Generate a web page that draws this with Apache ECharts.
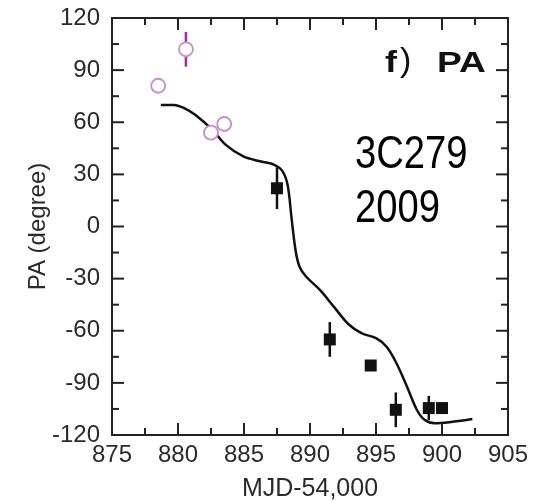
<!DOCTYPE html>
<html>
<head>
<meta charset="utf-8">
<script src="https://cdn.jsdelivr.net/npm/echarts@6/dist/echarts.min.js"></script>
<style>html,body{margin:0;padding:0;background:#fff;}#c{width:543px;height:502px;}</style>
</head>
<body>
<div id="c"></div>
<script>
// Open circles (early data)
const openX = [878.5, 880.6, 882.5, 883.5];
const openY = [81, 102, 54, 59];
const openErr = [0, 10, 0, 0];
// Filled squares
const sqX = [887.5, 891.5, 894.6, 896.5, 899.0, 900.0];
const sqY = [22, -65, -80, -105.5, -104.5, -104.5];
const sqErr = [12, 10, 0, 10, 7, 0];
// Model curve
const curveX = [878.7, 879.7, 880.5, 881.3, 882.6, 883.6, 884.95, 886.3, 887.3, 887.9, 888.3, 888.6, 888.9, 889.2, 889.7, 890.75, 891.8, 892.9, 893.9, 895.0, 895.8, 896.55, 897.35, 898.1, 898.7, 899.45, 900.8, 902.3];
const curveY = [70, 70, 68, 64.3, 55.7, 47.1, 40.3, 37.4, 35.5, 32, 24, 5, -13.4, -23, -28.8, -36.5, -46.1, -56.1, -61.4, -64.3, -69.2, -78.7, -92.2, -105.6, -111.4, -113.3, -112.4, -110.8];
// Axis range and tick values
const xMin = 875, xMax = 905, xStep = 5;
const yMin = -120, yMax = 120, yStep = 30;
const xMajorTicks = [880, 885, 890, 895, 900];
const xMinorTicks = [877.5, 882.5, 887.5, 892.5, 897.5, 902.5];
const yMajorTicks = [-90, -60, -30, 0, 30, 60, 90];
const yMinorTicks = [-105, -75, -45, -15, 15, 45, 75, 105];

const FONT = '"Liberation Sans", Arial, sans-serif';
const AX = '#222';
const LBL = '#2a2a2a';
const MAJOR_LEN = 12, MINOR_LEN = 7;

function zip(a, b, c) { return a.map((v, i) => c ? [v, b[i], c[i]] : [v, b[i]]); }

function errBar(color) {
  return function (params, api) {
    const x = api.value(0), y = api.value(1), e = api.value(2);
    if (!e) return null;
    const p1 = api.coord([x, y + e]);
    const p2 = api.coord([x, y - e]);
    return { type: 'line', shape: { x1: p1[0], y1: p1[1], x2: p2[0], y2: p2[1] },
      style: { stroke: color, lineWidth: 2.5 } };
  };
}

// tick: anchor point in data units + inward pixel offset
function tickItem(params, api) {
  const p = api.coord([api.value(0), api.value(1)]);
  return { type: 'line', shape: { x1: p[0], y1: p[1], x2: p[0] + api.value(2), y2: p[1] + api.value(3) },
    style: { stroke: AX, lineWidth: 2 } };
}
// frame edge: two points in data units
function frameItem(params, api) {
  const a = api.coord([api.value(0), api.value(1)]);
  const b = api.coord([api.value(2), api.value(3)]);
  return { type: 'line', shape: { x1: a[0], y1: a[1], x2: b[0], y2: b[1] },
    style: { stroke: AX, lineWidth: 2, lineCap: 'square' } };
}
function xT(vals, len) { return vals.map(v => [v, yMin, 0, -len]).concat(vals.map(v => [v, yMax, 0, len])); }
function yT(vals, len) { return vals.map(v => [xMin, v, len, 0]).concat(vals.map(v => [xMax, v, -len, 0])); }
const tickData = xT(xMajorTicks, MAJOR_LEN).concat(xT(xMinorTicks, MINOR_LEN), yT(yMajorTicks, MAJOR_LEN), yT(yMinorTicks, MINOR_LEN));
const frameData = [[xMin, yMin, xMax, yMin], [xMin, yMax, xMax, yMax], [xMin, yMin, xMin, yMax], [xMax, yMin, xMax, yMax]];

const hidden = {
  axisLine: { show: false }, axisTick: { show: false }, minorTick: { show: false }, splitLine: { show: false }
};

const chart = echarts.init(document.getElementById('c'));
chart.setOption({
  animation: false,
  backgroundColor: '#fff',
  grid: { left: 112, right: 35, top: 18, bottom: 67, outerBoundsMode: 'none' },
  xAxis: Object.assign({ type: 'value', min: xMin, max: xMax, interval: xStep,
      name: 'MJD-54,000', nameLocation: 'middle', nameGap: 42, nameMoveOverlap: false,
      nameTextStyle: { fontFamily: FONT, fontSize: 25, color: LBL },
      axisLabel: { fontFamily: FONT, fontSize: 24, color: LBL, margin: 8 } }, hidden),
  yAxis: Object.assign({ type: 'value', min: yMin, max: yMax, interval: yStep,
      name: 'PA (degree)', nameLocation: 'middle', nameGap: 62, nameRotate: 90, nameMoveOverlap: false,
      nameTextStyle: { fontFamily: FONT, fontSize: 24, color: LBL },
      axisLabel: { fontFamily: FONT, fontSize: 24, color: LBL, margin: 12 } }, hidden),
  graphic: [
    { type: 'text', x: 385, y: 64, scaleX: 1.2, z: 100,
      style: { text: 'f', fontFamily: FONT, fontSize: 30, fontWeight: 'bold', fill: '#111', verticalAlign: 'middle', align: 'left' } },
    { type: 'text', x: 400, y: 62, z: 100,
      style: { text: ')', fontFamily: FONT, fontSize: 34, fontWeight: 'normal', fill: '#111', verticalAlign: 'middle', align: 'left' } },
    { type: 'text', x: 437, y: 64, scaleX: 1.24, z: 100,
      style: { text: 'PA', fontFamily: FONT, fontSize: 30, fontWeight: 'bold', fill: '#111', verticalAlign: 'middle', align: 'left' } },
    { type: 'text', x: 355, y: 155, scaleX: 0.83, z: 100,
      style: { text: '3C279', fontFamily: FONT, fontSize: 46, fill: '#000', verticalAlign: 'middle', align: 'left' } },
    { type: 'text', x: 355, y: 209.7, scaleX: 0.83, z: 100,
      style: { text: '2009', fontFamily: FONT, fontSize: 46, fill: '#000', verticalAlign: 'middle', align: 'left' } }
  ],
  series: [
    { type: 'custom', data: frameData, renderItem: frameItem, silent: true, z: 3 },
    { type: 'custom', data: tickData, renderItem: tickItem, silent: true, z: 3 },
    { type: 'line', data: zip(curveX, curveY), smooth: 0.35, showSymbol: false, symbol: 'none',
      lineStyle: { color: '#111', width: 2.5 }, z: 2 },
    { type: 'custom', data: zip(openX, openY, openErr), renderItem: errBar('#a02aa8'), z: 3 },
    { type: 'custom', data: zip(sqX, sqY, sqErr), renderItem: errBar('#111'), z: 3 },
    { type: 'scatter', data: zip(openX, openY), symbol: 'circle', symbolSize: 14,
      itemStyle: { color: '#fff', borderColor: '#c98ad0', borderWidth: 1.8, opacity: 1 }, z: 4 },
    { type: 'scatter', data: zip(sqX, sqY), symbol: 'rect', symbolSize: 12,
      itemStyle: { color: '#111', opacity: 1 }, z: 4 }
  ]
});
</script>
</body>
</html>
